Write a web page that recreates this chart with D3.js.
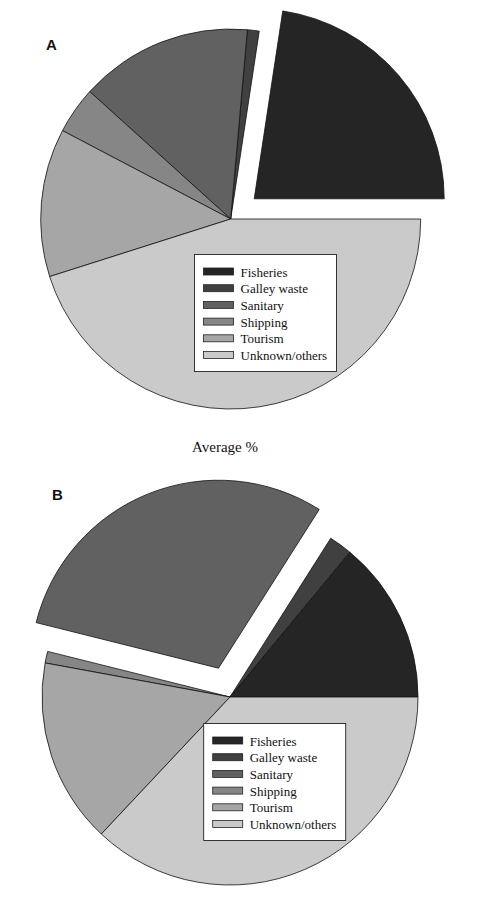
<!DOCTYPE html>
<html>
<head>
<meta charset="utf-8">
<script src="https://cdn.jsdelivr.net/npm/d3@7"></script>
<style>
  body { margin: 0; background: #fff; }
  svg { display: block; }
</style>
</head>
<body>
<svg id="area" width="478" height="899"></svg>
<script>
const categories = ["Fisheries", "Galley waste", "Sanitary", "Shipping", "Tourism", "Unknown/others"];
const shareA = [22.6, 1.0, 14.7, 4.0, 12.6, 45.1];
const shareB = [14.0, 2.0, 30.1, 1.0, 15.9, 37.0];
const explodedA = "Fisheries";
const explodedB = "Sanitary";
const greys = ["#252525", "#404040", "#616161", "#868686", "#a6a6a6", "#cacaca"];

const svg = d3.select("#area");
const fill = d3.scaleOrdinal().domain(categories).range(greys);

// slices run counter-clockwise from 3 o'clock
const pie = d3.pie().sort(null).value(d => d.v)
  .startAngle(Math.PI / 2).endAngle(Math.PI / 2 - 2 * Math.PI);

function drawPie(values, exploded, cx, cy, r, legendX, legendY, letter, lx, ly) {
  const g = svg.append("g").attr("transform", "translate(" + cx + "," + cy + ")");
  const arc = d3.arc().innerRadius(0).outerRadius(r);
  const rows = categories.map((c, i) => ({ c: c, v: values[i] }));
  g.selectAll("path").data(pie(rows)).join("path")
    .attr("d", arc)
    .attr("fill", d => fill(d.data.c))
    .attr("stroke", "#111")
    .attr("stroke-width", 0.8)
    .attr("stroke-linejoin", "miter")
    .attr("transform", d => {
      if (d.data.c !== exploded) return null;
      const a = (d.startAngle + d.endAngle) / 2;
      return "translate(" + (Math.sin(a) * 31) + "," + (-Math.cos(a) * 31) + ")";
    });

  // legend
  const lg = svg.append("g").attr("transform", "translate(" + legendX + "," + legendY + ")");
  lg.append("rect").attr("width", 142).attr("height", 117)
    .attr("fill", "#fff").attr("stroke", "#222").attr("stroke-width", 0.9);
  const item = lg.selectAll(".item").data(categories).join("g")
    .attr("class", "item")
    .attr("transform", (d, i) => "translate(9," + (13.5 + i * 16.7) + ")");
  item.append("rect").attr("width", 30).attr("height", 7)
    .attr("fill", d => fill(d)).attr("stroke", "#222").attr("stroke-width", 0.8);
  item.append("text").attr("x", 37).attr("y", 8.5)
    .attr("font-family", "Liberation Serif, Times New Roman, serif")
    .attr("font-size", 13).attr("fill", "#111")
    .text(d => d);

  svg.append("text").attr("x", lx).attr("y", ly)
    .attr("font-family", "Liberation Sans, Arial, sans-serif")
    .attr("font-weight", "bold").attr("font-size", 15).attr("fill", "#111")
    .text(letter);
}

drawPie(shareA, explodedA, 230.7, 219, 190, 194.5, 254.5, "A", 46, 49.5);

svg.append("text").attr("x", 225).attr("y", 451.5)
  .attr("text-anchor", "middle")
  .attr("font-family", "Liberation Serif, Times New Roman, serif")
  .attr("font-size", 15).attr("fill", "#111")
  .text("Average %");

drawPie(shareB, explodedB, 230, 697, 188, 203.7, 723.5, "B", 52, 500);
</script>
</body>
</html>
